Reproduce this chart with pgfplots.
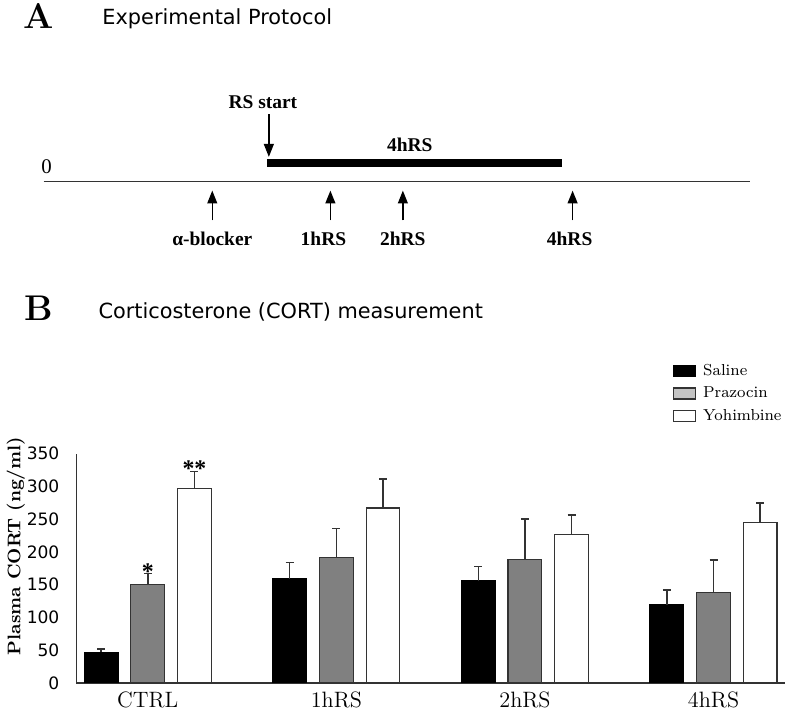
\documentclass[border=0pt]{standalone}
\usepackage{fontspec}
\usepackage{pgfplots}
\usepackage{pgfplotstable}
\pgfplotsset{compat=1.18}
\usetikzlibrary{arrows.meta}
\newfontfamily\sansf{DejaVu Sans}
\newfontfamily\timesf{Liberation Serif}
\definecolor{edge}{HTML}{333333}
\definecolor{pgray}{HTML}{808080}
\definecolor{lgray}{HTML}{C4C4C4}

% mean and upper SEM
\pgfplotstableread{
x y e
0 47 5
1 159 25
2 156 22
3 119 23
}\saline
\pgfplotstableread{
x y e
0 150 17
1 192 44
2 189 61
3 138 50
}\prazocin
\pgfplotstableread{
x y e
0 297 26
1 267 44
2 227 29
3 245 30
}\yohimbine

\begin{document}
\begin{tikzpicture}
% panel A: protocol sketch, drawn in pixel units of the reference
\begin{scope}[x=0.5pt,y=-0.5pt]
\path[use as bounding box] (0,0) rectangle (787,712);
\tikzset{lab/.style={font=\timesf\bfseries\fontsize{9.8}{11}\selectfont,inner sep=0pt},
  upar/.style={line width=0.7pt,-{Triangle[length=6.5pt,width=5pt]}}}
\node[font=\bfseries\fontsize{18}{18}\selectfont,inner sep=0pt] at (33,16) {A};
\node[anchor=base west,font=\sansf\fontsize{10.5}{12}\selectfont,inner sep=0pt] at (97,25) {Experimental Protocol};
\node[lab] at (259,103) {RS start};
\draw[upar] (265,115) -- (265,158);
\node[lab] at (407,146) {4hRS};
\draw[line width=4pt] (263,164) -- (560,164);
\node[font=\timesf\fontsize{10.5}{12}\selectfont,inner sep=0pt] at (41,168) {0};
\draw[edge,line width=0.75pt] (38,183) -- (750,183);
\foreach \xx in {208,327,400,571} \draw[upar] (\xx,222) -- (\xx,192);
\node[lab] at (208,241) {α-blocker};
\node[lab] at (320,241) {1hRS};
\node[lab] at (400,241) {2hRS};
\node[lab] at (568,241) {4hRS};
% panel B heading
\node[font=\bfseries\fontsize{18}{18}\selectfont,inner sep=0pt] at (33,311) {B};
\node[anchor=base west,font=\sansf\fontsize{10.5}{12}\selectfont,inner sep=0pt] at (93,321) {Corticosterone (CORT) measurement};
\end{scope}

\begin{axis}[
  at={(35.5pt,-344pt)}, anchor=south west,
  scale only axis, width=357pt, height=115.5pt,
  ybar=6.5pt, bar width=17pt,
  xmin=-0.379, xmax=3.379, ymin=0, ymax=350,
  xtick={0,1,2,3}, xticklabels={CTRL,1hRS,2hRS,4hRS},
  ytick={0,50,...,350},
  axis lines=left, axis line style={-,edge,line width=0.6pt},
  major tick length=0pt,
  /pgf/number format/assume math mode=true,
  yticklabel style={font=\sansf\fontsize{8.6}{10}\selectfont,xshift=-5pt},
  xticklabel style={font=\fontsize{11.2}{12}\selectfont,yshift=-1pt},
  ylabel={Plasma CORT (ng/ml)},
  every axis y label/.style={at={(axis description cs:-0.0854,0.597)},rotate=90,anchor=center,
    font=\bfseries\fontsize{9.2}{11}\selectfont},
  legend image code/.code={\draw[#1] (0pt,-2.75pt) rectangle (11pt,2.75pt);},
  legend style={at={(axis description cs:0.8417,1.4026)},anchor=north west,draw=none,fill=none,
    inner sep=0pt,font=\fontsize{8}{9}\selectfont,row sep=1.75pt,
    /tikz/every odd column/.append style={column sep=2.5pt},
    nodes={text height=6pt,text depth=1.5pt,inner sep=1pt}},
  legend cell align=left,
]
\addplot[fill=black,draw=black,line width=0.6pt,
  error bars/.cd,y dir=plus,y explicit,
  error bar style={edge,line width=0.8pt},
  error mark options={rotate=90,mark size=2pt,line width=0.8pt,edge}]
  table[x=x,y=y,y error=e]{\saline};
\addplot[fill=pgray,draw=edge,line width=0.6pt,
  legend image code/.code={\draw[draw=edge,fill=lgray,line width=0.6pt] (0pt,-2.75pt) rectangle (11pt,2.75pt);},
  error bars/.cd,y dir=plus,y explicit,
  error bar style={edge,line width=0.8pt},
  error mark options={rotate=90,mark size=2pt,line width=0.8pt,edge}]
  table[x=x,y=y,y error=e]{\prazocin};
\addplot[fill=white,draw=edge,line width=0.6pt,
  error bars/.cd,y dir=plus,y explicit,
  error bar style={edge,line width=0.8pt},
  error mark options={rotate=90,mark size=2pt,line width=0.8pt,edge}]
  table[x=x,y=y,y error=e]{\yohimbine};
\legend{Saline,Prazocin,Yohimbine}
\node[font=\timesf\bfseries\fontsize{12}{12}\selectfont,anchor=south,inner sep=0pt,yshift=-3pt] at (axis cs:0,167) {*};
\node[font=\timesf\bfseries\fontsize{12}{12}\selectfont,anchor=south,inner sep=0pt,yshift=-3pt] at (axis cs:0.2474,323) {**};
\end{axis}
\end{tikzpicture}
\end{document}
